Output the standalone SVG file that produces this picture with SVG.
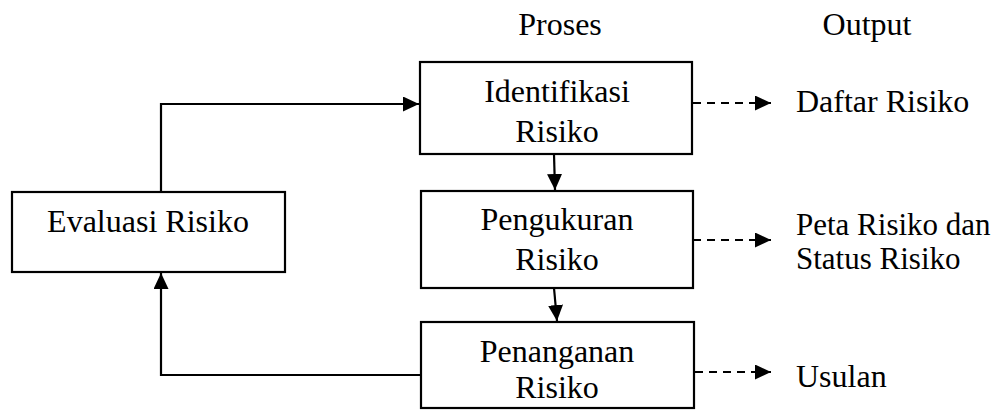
<svg xmlns="http://www.w3.org/2000/svg" width="1002" height="410" viewBox="0 0 1002 410">
<style>
text{font-family:"Liberation Serif","Times New Roman",serif;font-size:32px;fill:#000}
.c{text-anchor:middle}
.o2{font-size:31px}
.box{fill:#fff;stroke:#000;stroke-width:2.2}
.ln{fill:none;stroke:#000;stroke-width:2.2}
.dash{fill:none;stroke:#000;stroke-width:2.2;stroke-dasharray:8 6}
</style>
<defs>
<marker id="ah" markerWidth="16" markerHeight="15" refX="16" refY="7.5" orient="auto" markerUnits="userSpaceOnUse">
<path d="M0,0 L16,7.5 L0,15 Z" fill="#000"/>
</marker>
</defs>
<rect width="1002" height="410" fill="#fff"/>
<text class="c" x="560" y="35">Proses</text>
<text class="c" x="867" y="35">Output</text>
<g id="connectors">
<polyline class="ln" points="161,192 161,104 419,104" marker-end="url(#ah)"/>
<polyline class="ln" points="421,375 161,375 161,273" marker-end="url(#ah)"/>
<line class="ln" x1="554" y1="154" x2="555" y2="190" marker-end="url(#ah)"/>
<line class="ln" x1="554" y1="288" x2="557" y2="321" marker-end="url(#ah)"/>
<line class="dash" x1="693" y1="103" x2="771" y2="103" marker-end="url(#ah)"/>
<line class="dash" x1="693" y1="240" x2="771" y2="240" marker-end="url(#ah)"/>
<line class="dash" x1="695" y1="372" x2="771" y2="372" marker-end="url(#ah)"/>
</g>
<g id="identifikasi">
<rect class="box" x="420" y="62" width="272" height="92"/>
<text class="c" x="557" y="102">Identifikasi</text>
<text class="c" x="557" y="142">Risiko</text>
</g>
<g id="pengukuran">
<rect class="box" x="421" y="191" width="272" height="97"/>
<text class="c" x="557" y="230">Pengukuran</text>
<text class="c" x="557" y="270">Risiko</text>
</g>
<g id="penanganan">
<rect class="box" x="421" y="322" width="273" height="86"/>
<text class="c" x="557" y="362">Penanganan</text>
<text class="c" x="557" y="398">Risiko</text>
</g>
<g id="evaluasi">
<rect class="box" x="12" y="192" width="273" height="80"/>
<text class="c" x="148" y="232">Evaluasi Risiko</text>
</g>
<g id="out-daftar"><text x="796" y="112">Daftar Risiko</text></g>
<g id="out-peta">
<text class="o2" x="796" y="235">Peta Risiko dan</text>
<text class="o2" x="796" y="269">Status Risiko</text>
</g>
<g id="out-usulan"><text x="796" y="387">Usulan</text></g>
</svg>
